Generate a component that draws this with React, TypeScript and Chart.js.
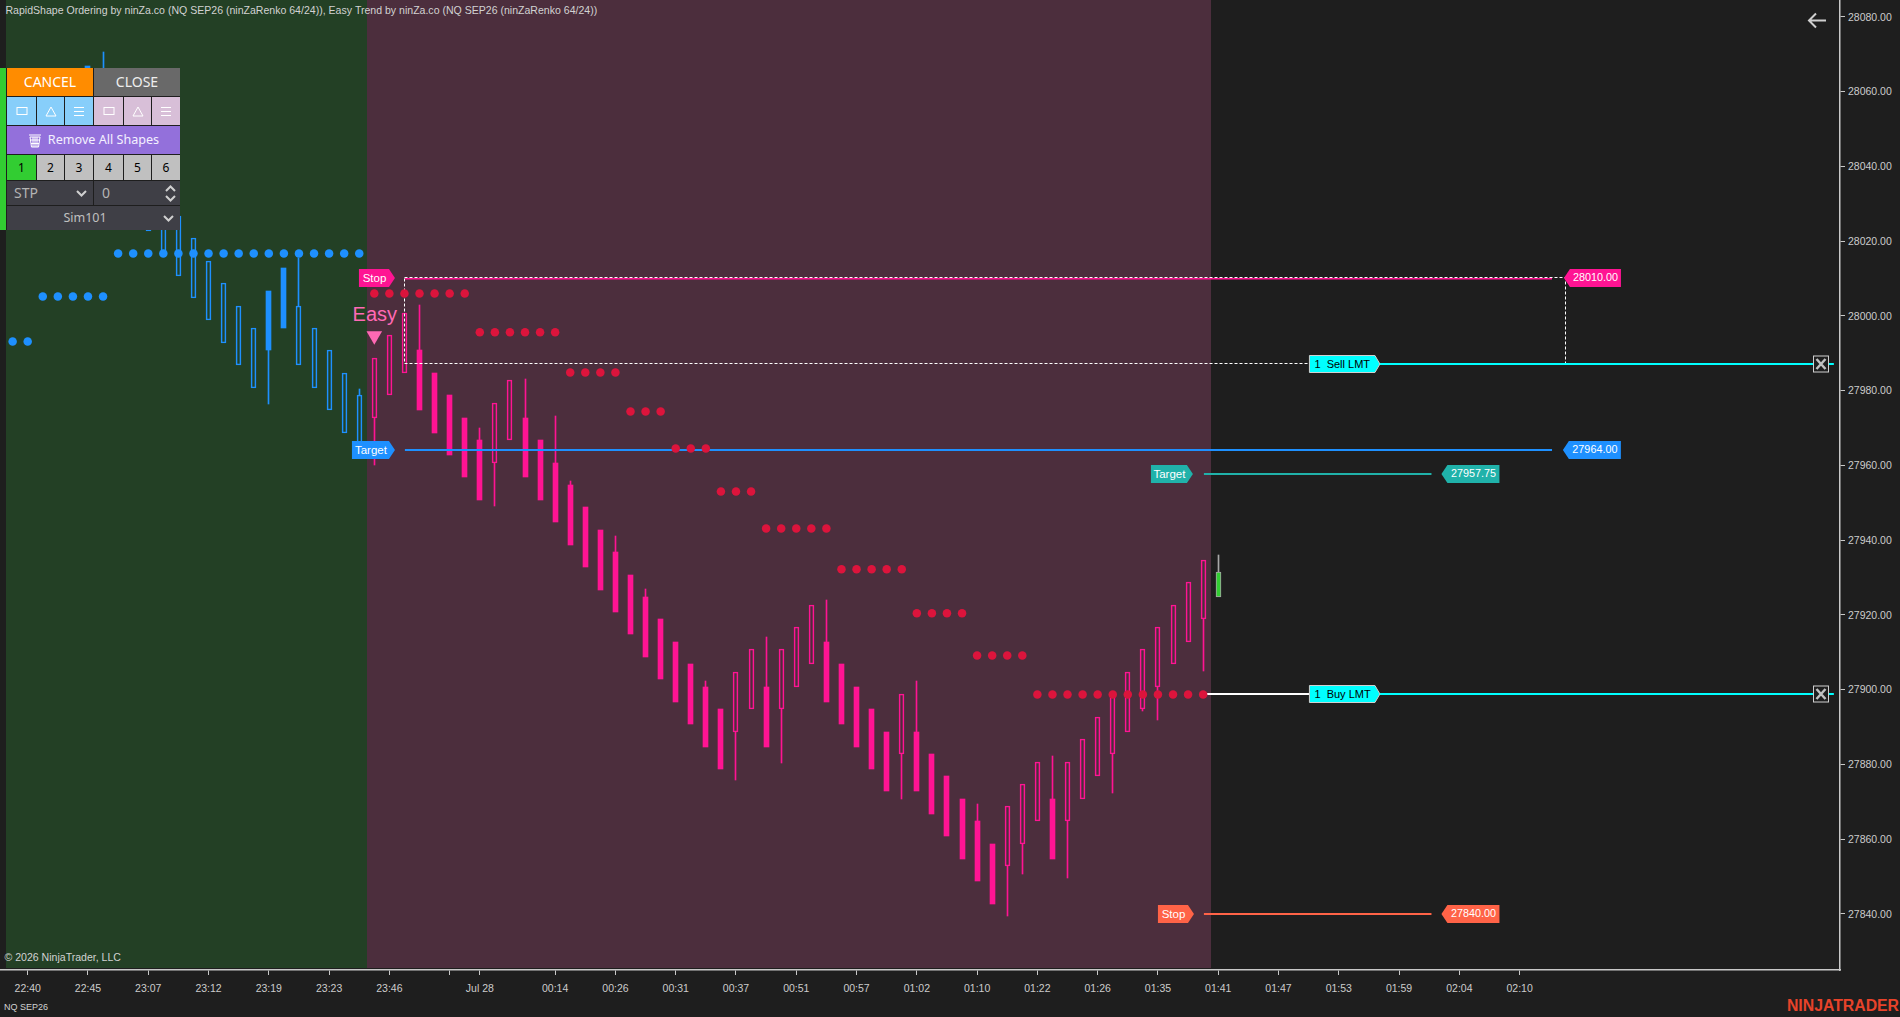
import React, { useEffect, useRef } from "react";
import { Chart, registerables } from "chart.js";

Chart.register(...registerables);

// ---- data ----
const barIndex = [4,5,6,7,8,9,10,11,12,13,14,15,16,17,18,19,20,21,22,23,24,25,26,27,28,29,30,31,32,33,34,35,36,37,38,39,40,41,42,43,44,45,46,47,48,49,50,51,52,53,54,55,56,57,58,59,60,61,62,63,64,65,66,67,68,69,70,71,72,73,74,75,76,77,78];
const bodyHigh = [28066.75,28056.75,28050.75,28044.75,28038.75,28032.75,28026.75,28020.75,28014.75,28008.75,28002.75,27996.75,28006.75,28012.75,28002.75,27996.75,27990.75,27984.75,27978.75,27988.75,27994.75,28000.75,27990.75,27984.75,27978.75,27972.75,27966.75,27976.75,27982.75,27972.75,27966.75,27960.75,27954.75,27948.75,27942.75,27936.75,27930.75,27924.75,27918.75,27912.75,27906.75,27900.75,27894.75,27904.75,27910.75,27900.75,27910.75,27916.75,27922.75,27912.75,27906.75,27900.75,27894.75,27888.75,27898.75,27888.75,27882.75,27876.75,27870.75,27864.75,27858.75,27868.75,27874.75,27880.75,27870.75,27880.75,27886.75,27892.75,27898.75,27904.75,27910.75,27916.75,27922.75,27928.75,27934.75];
const bodyLow = [28050.75,28040.75,28034.75,28028.75,28022.75,28016.75,28010.75,28004.75,27998.75,27992.75,27986.75,27980.75,27990.75,27996.75,27986.75,27980.75,27974.75,27968.75,27962.75,27972.75,27978.75,27984.75,27974.75,27968.75,27962.75,27956.75,27950.75,27960.75,27966.75,27956.75,27950.75,27944.75,27938.75,27932.75,27926.75,27920.75,27914.75,27908.75,27902.75,27896.75,27890.75,27884.75,27878.75,27888.75,27894.75,27884.75,27894.75,27900.75,27906.75,27896.75,27890.75,27884.75,27878.75,27872.75,27882.75,27872.75,27866.75,27860.75,27854.75,27848.75,27842.75,27852.75,27858.75,27864.75,27854.75,27864.75,27870.75,27876.75,27882.75,27888.75,27894.75,27900.75,27906.75,27912.75,27918.75];
const filledBars = [4,16,17,26,27,28,29,30,33,34,35,36,37,38,39,40,41,42,43,44,45,46,49,53,54,55,56,57,59,60,61,62,63,64,68];
const upperWickBars = [5,18,22,26,30,33,35,36,39,41,45,49,53,59,63,68];
const upperWickTips = [28070.5,28015.6,27980.3,28003,27969.9,27983,27973.3,27955.7,27941,27927,27902.2,27914,27923.9,27902.2,27869.5,27882.1];
const lowerWickBars = [16,23,31,47,50,58,65,66,69,72,74,75,78];
const lowerWickTips = [27976.3,27960,27949,27875.7,27880.25,27870.6,27839.3,27850.6,27849.5,27872.2,27894.2,27891.75,27905.1];
const lastBlueBar = 22;

const currentBar = 79;
const currentBody = [27924.75, 27931.5];
const currentWick = [27931.5, 27935.9];

const blueDotBars = [-1,0,1,2,3,4,5,6,7,8,9,10,11,12,13,14,15,16,17,18,19,20,21,22];
const blueDotValues = [27993.1,27993.1,28005.2,28005.2,28005.2,28005.2,28005.2,28016.7,28016.7,28016.7,28016.7,28016.7,28016.7,28016.7,28016.7,28016.7,28016.7,28016.7,28016.7,28016.7,28016.7,28016.7,28016.7,28016.7];
const redDotBars = [23,24,25,26,27,28,29,30,31,32,33,34,35,36,37,38,39,40,41,42,43,44,45,46,47,48,49,50,51,52,53,54,55,56,57,58,59,60,61,62,63,64,65,66,67,68,69,70,71,72,73,74,75,76,77,78];
const redDotValues = [28006,28006,28006,28006,28006,28006,28006,27995.6,27995.6,27995.6,27995.6,27995.6,27995.6,27984.85,27984.85,27984.85,27984.85,27974.4,27974.4,27974.4,27964.5,27964.5,27964.5,27953,27953,27953,27943.1,27943.1,27943.1,27943.1,27943.1,27932.2,27932.2,27932.2,27932.2,27932.2,27920.4,27920.4,27920.4,27920.4,27909.1,27909.1,27909.1,27909.1,27898.7,27898.7,27898.7,27898.7,27898.7,27898.7,27898.7,27898.7,27898.7,27898.7,27898.7,27898.7];

const xTickBars = [0,4,8,12,16,20,24,28,30,35,39,43,47,51,55,59,63,67,71,75,79,83,87,91,95,99];
const xTickLabels = ["22:40","22:45","23:07","23:12","23:19","23:23","23:46","","Jul 28","00:14","00:26","00:31","00:37","00:51","00:57","01:02","01:10","01:22","01:26","01:35","01:41","01:47","01:53","01:59","02:04","02:10"];
const yTicks = [28080,28060,28040,28020,28000,27980,27960,27940,27920,27900,27880,27860,27840];

const stopPrice = 28010;
const targetPrice = 27964;
const target2Price = 27957.75;
const stop2Price = 27840;
const sellPrice = 27987;
const buyPrice = 27898.8;
const easyBar = 23;
const easyPrice = 27994.7;

const xMin = -1.838;
const xMax = 120.259;
const yMin = 27824.97;
const yMax = 28084.5;

const regionBars = [[-1.44, 22.51], [22.51, 78.52]];
const regionColors = ["#234025", "#4c2e3d"];

const leftTags = [
  { text: "Stop", bar: 24.37, price: 28010, w: 36, color: "#ff1493" },
  { text: "Target", bar: 24.37, price: 27964, w: 43, color: "#1e90ff" },
  { text: "Target", bar: 77.32, price: 27957.75, w: 42, color: "#20b2aa" },
  { text: "Stop", bar: 77.39, price: 27840, w: 36, color: "#ff6347" },
];
const rightTags = [
  { text: "28010.00", bar: 101.94, price: 28010, w: 57, color: "#ff1493" },
  { text: "27964.00", bar: 101.87, price: 27964, w: 58, color: "#1e90ff" },
  { text: "27957.75", bar: 93.81, price: 27957.75, w: 58, color: "#20b2aa" },
  { text: "27840.00", bar: 93.81, price: 27840, w: 58, color: "#ff6347" },
];
const orderTags = [
  { text: "1  Sell LMT", bar: 89.73, price: 27987 },
  { text: "1  Buy LMT", bar: 89.73, price: 27898.8 },
];
const closeBar = 119.02;

const TEXT = "#d2d2d2";
const FONT = '"Liberation Sans", Arial, sans-serif';

const snap = {
  id: "snap",
  afterDatasetsUpdate(chart: any) {
    chart.getSortedVisibleDatasetMetas().forEach((meta: any) => {
      const width = meta.dataset && meta.dataset.options ? meta.dataset.options.borderWidth : 0;
      const isLine = meta.dataset && meta.controller.getDataset().showLine;
      meta.data.forEach((el: any) => {
        if (meta.type === "bar") {
          const odd = Math.round(el.width) % 2 === 1;
          el.x = odd ? Math.floor(el.x) + 0.5 : Math.round(el.x);
          el.y = Math.round(el.y);
          el.base = Math.round(el.base);
        } else if (isLine && width === 2) {
          el.y = Math.round(el.y);
        } else if (isLine && width === 1) {
          el.y = Math.floor(el.y) + 0.5;
          el.x = Math.floor(el.x) + 0.5;
        }
      });
    });
  },
};

const overlay = {
  id: "overlay",
  beforeDatasetsDraw(chart: any) {
    const { ctx, scales } = chart;
    const x = scales.x;
    const y = scales.y;
    ctx.save();
    regionBars.forEach((r, i) => {
      ctx.fillStyle = regionColors[i];
      const x0 = Math.round(x.getPixelForValue(r[0]));
      const x1 = Math.round(x.getPixelForValue(r[1]));
      ctx.fillRect(x0, 0, x1 - x0, Math.round(y.getPixelForValue(27825.5)));
    });
    ctx.restore();
  },
  afterDatasetsDraw(chart: any) {
    const { ctx, scales } = chart;
    const x = scales.x;
    const y = scales.y;
    ctx.save();
    ctx.textBaseline = "middle";

    // Easy label
    ctx.font = `20px ${FONT}`;
    ctx.fillStyle = "#ff69b4";
    ctx.textAlign = "center";
    ctx.fillText("Easy", x.getPixelForValue(easyBar) + 0.5, 315);

    // left tags: body then arrow tip on the right
    ctx.font = `11.5px ${FONT}`;
    leftTags.forEach((t) => {
      const tip = x.getPixelForValue(t.bar);
      const cy = Math.round(y.getPixelForValue(t.price));
      const l = tip - t.w;
      ctx.fillStyle = t.color;
      ctx.beginPath();
      ctx.moveTo(l, cy - 9);
      ctx.lineTo(tip - 6, cy - 9);
      ctx.lineTo(tip, cy);
      ctx.lineTo(tip - 6, cy + 9);
      ctx.lineTo(l, cy + 9);
      ctx.closePath();
      ctx.fill();
      ctx.fillStyle = "#ffffff";
      ctx.textAlign = "center";
      ctx.fillText(t.text, l + (t.w - 5) / 2, cy + 0.5);
    });

    // right tags: arrow tip on the left
    ctx.font = `10.8px ${FONT}`;
    rightTags.forEach((t) => {
      const tip = x.getPixelForValue(t.bar);
      const cy = Math.round(y.getPixelForValue(t.price));
      const r = tip + t.w;
      ctx.fillStyle = t.color;
      ctx.beginPath();
      ctx.moveTo(tip, cy);
      ctx.lineTo(tip + 6, cy - 9);
      ctx.lineTo(r, cy - 9);
      ctx.lineTo(r, cy + 9);
      ctx.lineTo(tip + 6, cy + 9);
      ctx.closePath();
      ctx.fill();
      ctx.fillStyle = "#ffffff";
      ctx.textAlign = "center";
      ctx.fillText(t.text, tip + 5 + (t.w - 4) / 2, cy + 0.5);
    });

    // order tags
    ctx.font = `11px ${FONT}`;
    orderTags.forEach((t) => {
      const tip = x.getPixelForValue(t.bar);
      const cy = Math.round(y.getPixelForValue(t.price));
      const l = tip - 71;
      ctx.fillStyle = "#00ffff";
      ctx.strokeStyle = "#d0d0d0";
      ctx.lineWidth = 1;
      ctx.beginPath();
      ctx.moveTo(l + 0.5, cy - 8.5);
      ctx.lineTo(tip - 5, cy - 8.5);
      ctx.lineTo(tip, cy);
      ctx.lineTo(tip - 5, cy + 8.5);
      ctx.lineTo(l + 0.5, cy + 8.5);
      ctx.closePath();
      ctx.fill();
      ctx.stroke();
      ctx.fillStyle = "#000000";
      ctx.textAlign = "left";
      ctx.fillText(t.text, l + 5.5, cy + 0.5);

      // close button
      const bx = Math.round(x.getPixelForValue(closeBar));
      ctx.fillStyle = "#1e1e1e";
      ctx.fillRect(bx - 7.5, cy - 8, 15, 16);
      ctx.strokeStyle = "#d0d0d0";
      ctx.lineWidth = 1;
      ctx.strokeRect(bx - 7.5, cy - 8, 15, 16);
      ctx.strokeStyle = "#c0c0c0";
      ctx.lineWidth = 2.5;
      ctx.beginPath();
      ctx.moveTo(bx - 4.5, cy - 5);
      ctx.lineTo(bx + 4.5, cy + 5);
      ctx.moveTo(bx + 4.5, cy - 5);
      ctx.lineTo(bx - 4.5, cy + 5);
      ctx.stroke();
    });

    // header and footer text
    ctx.textAlign = "left";
    ctx.font = `10.55px ${FONT}`;
    ctx.fillStyle = TEXT;
    ctx.fillText("RapidShape Ordering by ninZa.co (NQ SEP26 (ninZaRenko 64/24)), Easy Trend by ninZa.co (NQ SEP26 (ninZaRenko 64/24))", 5.5, 11);
    ctx.fillText("\u00a9 2026 NinjaTrader, LLC", 4.5, 958);
    ctx.font = `9px ${FONT}`;
    ctx.fillText("NQ SEP26", 4, 1008);
    ctx.font = `bold 15.8px ${FONT}`;
    ctx.fillStyle = "#e8432a";
    ctx.textAlign = "right";
    ctx.fillText("NINJATRADER", 1899, 1007);

    // back arrow
    ctx.strokeStyle = "#cfcfcf";
    ctx.lineWidth = 2;
    ctx.beginPath();
    ctx.moveTo(1826, 20.5);
    ctx.lineTo(1809, 20.5);
    ctx.moveTo(1816, 13.5);
    ctx.lineTo(1809, 20.5);
    ctx.lineTo(1816, 27.5);
    ctx.stroke();
    ctx.restore();
  },
};

const bodyDataset = (bars: number[], fill: string, border: string) => ({
  type: "bar",
  data: bars.map((k) => {
    const i = barIndex.indexOf(k);
    return { x: k, y: [bodyLow[i], bodyHigh[i]] };
  }),
  backgroundColor: fill,
  borderColor: border,
  borderWidth: fill === "transparent" ? 1 : 0,
  borderSkipped: false,
  barThickness: 5,
  grouped: false,
  order: 10,
});

const wickDataset = (data: any[], color: string) => ({
  type: "bar",
  data,
  backgroundColor: color,
  borderWidth: 0,
  barThickness: 1,
  grouped: false,
  order: 11,
});

const lineDataset = (pts: number[][], color: string, width: number, order: number, dash: number[] = []) => ({
  type: "scatter",
  showLine: true,
  data: pts.map((p) => ({ x: p[0], y: p[1] })),
  borderColor: color,
  borderWidth: width,
  borderDash: dash,
  pointRadius: 0,
  order,
});

const dotDataset = (bars: number[], values: number[], color: string) => ({
  type: "scatter",
  data: bars.map((k, i) => ({ x: k, y: values[i] })),
  backgroundColor: color,
  borderWidth: 0,
  pointRadius: 4.25,
  order: 2,
});

function buildDatasets() {
  const isFilled = (k: number) => filledBars.includes(k);
  const isBlue = (k: number) => k <= lastBlueBar;
  const upper = upperWickBars.map((k, i) => ({ x: k, y: [bodyHigh[barIndex.indexOf(k)], upperWickTips[i]] }));
  const lower = lowerWickBars.map((k, i) => ({ x: k, y: [lowerWickTips[i], bodyLow[barIndex.indexOf(k)]] }));
  const wicks = [...upper, ...lower];
  return [
    wickDataset(wicks.filter((w) => isBlue(w.x)), "#1e90ff"),
    wickDataset(wicks.filter((w) => !isBlue(w.x)), "#ff1493"),
    wickDataset([{ x: currentBar, y: currentWick }], "#a8a8a8"),
    bodyDataset(barIndex.filter((k) => isBlue(k) && isFilled(k)), "#1e90ff", "#1e90ff"),
    bodyDataset(barIndex.filter((k) => isBlue(k) && !isFilled(k)), "transparent", "#1e90ff"),
    bodyDataset(barIndex.filter((k) => !isBlue(k) && isFilled(k)), "#ff1493", "#ff1493"),
    bodyDataset(barIndex.filter((k) => !isBlue(k) && !isFilled(k)), "transparent", "#ff1493"),
    {
      type: "bar",
      data: [{ x: currentBar, y: currentBody }],
      backgroundColor: "#32cd32",
      borderColor: "#a8a8a8",
      borderWidth: 1,
      borderSkipped: false,
      barThickness: 5,
      grouped: false,
      order: 10,
    },
    lineDataset([[25.03, stopPrice - 0.08], [101.15, stopPrice - 0.08]], "#ff1493", 1.5, 6),
    lineDataset(
      [[25.03, stopPrice + 0.25], [102.05, stopPrice + 0.25], [102.05, sellPrice + 0.2], [25.03, sellPrice + 0.2], [25.03, stopPrice + 0.25]],
      "#ffffff", 1, 5, [3, 2]
    ),
    lineDataset([[25.03, targetPrice], [101.15, targetPrice]], "#1e90ff", 2, 6),
    lineDataset([[78.05, target2Price], [93.15, target2Price]], "#20b2aa", 2, 6),
    lineDataset([[78.05, stop2Price], [93.15, stop2Price]], "#ff6347", 2, 6),
    lineDataset([[89.73, sellPrice], [119.85, sellPrice]], "#00ffff", 2, 4),
    lineDataset([[89.73, buyPrice], [119.85, buyPrice]], "#00ffff", 2, 4),
    lineDataset([[78.05, buyPrice], [85.05, buyPrice]], "#ffffff", 2, 4),
    dotDataset(blueDotBars, blueDotValues, "#1e90ff"),
    dotDataset(redDotBars, redDotValues, "#dc143c"),
    {
      type: "scatter",
      data: [{ x: easyBar, y: easyPrice }],
      backgroundColor: "#ff69b4",
      borderWidth: 0,
      pointStyle: "triangle",
      pointRadius: 9,
      rotation: 180,
      order: 1,
    },
  ];
}

// ---- order panel ----
const Cell = ({ x, y, w, h, bg, color, size = 13, children }: any) => (
  <div
    style={{
      position: "absolute", left: x, top: y, width: w, height: h, background: bg, color,
      fontSize: size, display: "flex", alignItems: "center", justifyContent: "center",
      fontFamily: '"Noto Sans", sans-serif', lineHeight: 1, whiteSpace: "nowrap",
    }}
  >
    {children}
  </div>
);

const IconRect = () => (
  <svg width="12" height="10"><rect x="1" y="1.5" width="10" height="7" fill="none" stroke="#fff" strokeWidth="1" /></svg>
);
const IconTri = () => (
  <svg width="12" height="11"><path d="M6 1 L11 10 L1 10 Z" fill="none" stroke="#fff" strokeWidth="1" /></svg>
);
const IconLines = () => (
  <svg width="12" height="11"><path d="M1 1.5 H11 M1 5.5 H11 M1 9.5 H11" stroke="#fff" strokeWidth="1" /></svg>
);
const Chevron = ({ up }: any) => (
  <svg width="11" height="7" style={{ display: "block" }}>
    <path d={up ? "M1 6 L5.5 1.5 L10 6" : "M1 1 L5.5 5.5 L10 1"} fill="none" stroke="#d0d0d0" strokeWidth="2" />
  </svg>
);
const Trash = () => (
  <svg width="14" height="15" style={{ marginRight: 6 }}>
    <path d="M1 2 H13 M2 4 L3.5 14 H10.5 L12 4 Z M5 4 V14 M7 4 V14 M9 4 V14 M2.5 7 H11.5 M3 10.5 H11" fill="none" stroke="#fff" strokeWidth="1" />
  </svg>
);

const columns = [[7, 29], [37, 27], [65, 28], [94, 29], [124, 27], [152, 28]];
const numberLabels = ["1", "2", "3", "4", "5", "6"];
const shapeIcons = [IconRect, IconTri, IconLines, IconRect, IconTri, IconLines];

const Panel = () => (
  <>
    <div style={{ position: "absolute", left: 0, top: 68, width: 6, height: 162, background: "#32cd32" }} />
    <div style={{ position: "absolute", left: 6, top: 68, width: 174, height: 162, background: "#1e1e1e" }} />
    <Cell x={7} y={68} w={86} h={28} bg="#ff8c00" color="#ffffff" size={14}>CANCEL</Cell>
    <Cell x={94} y={68} w={86} h={28} bg="#696969" color="#eeeeee" size={14}>CLOSE</Cell>
    {columns.map((c, i) => {
      const Icon = shapeIcons[i];
      return <Cell key={i} x={c[0]} y={97} w={c[1]} h={28} bg={i < 3 ? "#87cefa" : "#d8bfd8"} color="#fff"><Icon /></Cell>;
    })}
    <Cell x={7} y={126} w={173} h={28} bg="#9370db" color="#f4f0ff" size={12.6}><Trash />Remove All Shapes</Cell>
    {columns.map((c, i) => (
      <Cell key={i} x={c[0]} y={155} w={c[1]} h={25} bg={i === 0 ? "#32cd32" : "#c0c0c0"} color="#000" size={12}>{numberLabels[i]}</Cell>
    ))}
    <Cell x={7} y={181} w={86} h={24} bg="#3f3f46" color="#b4b4b4" size={14}>
      <span style={{ position: "absolute", left: 7 }}>STP</span>
      <span style={{ position: "absolute", right: 6 }}><Chevron /></span>
    </Cell>
    <Cell x={94} y={181} w={86} h={24} bg="#3f3f46" color="#b4b4b4" size={14}>
      <span style={{ position: "absolute", left: 8 }}>0</span>
      <span style={{ position: "absolute", right: 4, top: 4 }}><Chevron up /></span>
      <span style={{ position: "absolute", right: 4, top: 14 }}><Chevron /></span>
    </Cell>
    <Cell x={7} y={206} w={173} h={24} bg="#3f3f46" color="#c0c0c0" size={12.5}>
      <span style={{ marginRight: 17 }}>Sim101</span>
      <span style={{ position: "absolute", right: 6 }}><Chevron /></span>
    </Cell>
  </>
);

const noPadding = (axis: any) => {
  axis.paddingLeft = 0;
  axis.paddingRight = 0;
  axis.paddingTop = 0;
  axis.paddingBottom = 0;
};

export default function App() {
  const ref = useRef<HTMLCanvasElement | null>(null);
  useEffect(() => {
    document.body.style.margin = "0";
    document.body.style.background = "#1e1e1e";
    const canvas = ref.current as HTMLCanvasElement;
    canvas.getContext("2d", { alpha: false });
    const chart = new Chart(canvas, {
      type: "bar",
      data: { datasets: buildDatasets() as any },
      plugins: [
        {
          id: "bg",
          beforeDraw(c: any) {
            c.ctx.save();
            c.ctx.fillStyle = "#1e1e1e";
            c.ctx.fillRect(0, 0, c.width, c.height);
            c.ctx.restore();
          },
        },
        snap,
        overlay,
      ],
      options: {
        responsive: false,
        animation: false,
        devicePixelRatio: 1,
        events: [],
        layout: { padding: 0, autoPadding: false },
        plugins: { legend: { display: false }, tooltip: { enabled: false }, title: { display: false } },
        scales: {
          x: {
            type: "linear",
            min: xMin,
            max: xMax,
            offset: false,
            afterBuildTicks: (axis: any) => {
              axis.ticks = xTickBars.map((value) => ({ value }));
            },
            afterFit: (axis: any) => {
              axis.height = 47;
              noPadding(axis);
            },
            border: { color: "#c8c8c8", width: 1.5 },
            grid: { offset: false, drawOnChartArea: false, drawTicks: true, tickLength: 5, tickColor: "#c8c8c8" },
            ticks: {
              autoSkip: false,
              maxRotation: 0,
              minRotation: 0,
              padding: 8,
              color: "#cccccc",
              font: { family: FONT, size: 10.5 },
              callback: (v: any) => xTickLabels[xTickBars.indexOf(v)] ?? "",
            },
          },
          y: {
            type: "linear",
            position: "right",
            min: yMin,
            max: yMax,
            afterBuildTicks: (axis: any) => {
              axis.ticks = yTicks.map((value) => ({ value }));
            },
            afterFit: (axis: any) => {
              axis.width = 60;
              noPadding(axis);
            },
            border: { color: "#c8c8c8", width: 1.5 },
            grid: { drawOnChartArea: false, drawTicks: true, tickLength: 5, tickColor: "#c8c8c8" },
            ticks: {
              padding: 3,
              labelOffset: 1,
              color: "#cccccc",
              font: { family: FONT, size: 10.5 },
              callback: (v: any) => Number(v).toFixed(2),
            },
          },
        },
      } as any,
    } as any);
    return () => chart.destroy();
  }, []);
  return (
    <div style={{ position: "fixed", left: 0, top: 0, width: 1900, height: 1017, overflow: "hidden", background: "#1e1e1e" }}>
      <canvas ref={ref} width={1900} height={1017} style={{ display: "block" }} />
      <Panel />
    </div>
  );
}
